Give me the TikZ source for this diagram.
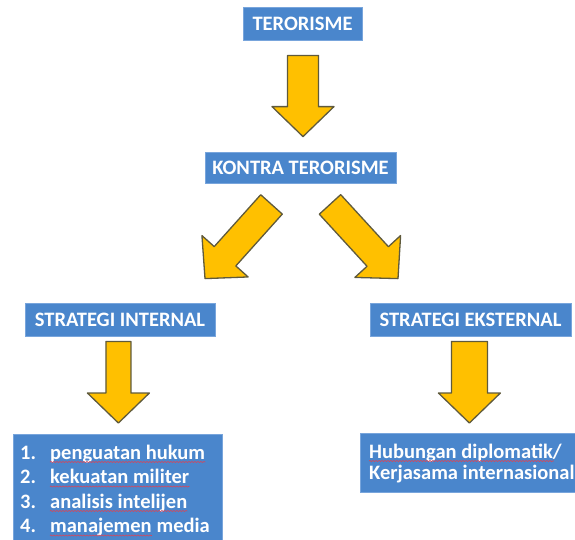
\documentclass[tikz,border=0pt]{standalone}
\usepackage{fontspec}
\setmainfont{Carlito}
\usetikzlibrary{calc, decorations.pathmorphing}

\definecolor{boxblue}{RGB}{74,134,204}
\definecolor{boxedge}{RGB}{120,165,220}
\definecolor{arrowgold}{RGB}{255,192,0}
\definecolor{arrowedge}{RGB}{95,90,60}
\definecolor{spellred}{RGB}{215,70,90}

\tikzset{
 box/.style={fill=boxblue, draw=boxedge, line width=0.8pt, inner sep=0pt,
  text=white, font=\bfseries\fontsize{20.5}{24}\selectfont},
 itemtext/.style={text=white, inner sep=0pt, anchor=base west,
  font=\bfseries\fontsize{20.5}{24}\selectfont},
 spell/.style={spellred, line width=0.6pt, decorate,
  decoration={snake, amplitude=0.6pt, segment length=3pt}},
 fatarrow/.style={draw=arrowedge, fill=arrowgold, line width=1.3pt, line join=round,
  to path={
   ($(\tikztostart)!#1!90:(\tikztotarget)$)
   -- ($($(\tikztotarget)!30pt!(\tikztostart)$)!#1!90:(\tikztotarget)$)
   -- ($($(\tikztotarget)!30pt!(\tikztostart)$)!31pt!90:(\tikztotarget)$)
   -- (\tikztotarget)
   -- ($($(\tikztotarget)!30pt!(\tikztostart)$)!31pt!-90:(\tikztotarget)$)
   -- ($($(\tikztotarget)!30pt!(\tikztostart)$)!#1!-90:(\tikztotarget)$)
   -- ($(\tikztostart)!#1!-90:(\tikztotarget)$) -- cycle}},
 fatarrow/.default=15pt
}

\begin{document}
\begin{tikzpicture}[x=1pt, y=-1pt]
 \useasboundingbox (0,0) rectangle (575,539);
 \clip (0,0) rectangle (575,539);

 % boxes
 \node[box, minimum width=119pt, minimum height=33pt] (terror) at (302.5,23.5) {TERORISME};
 \node[box, minimum width=191pt, minimum height=31pt] (kontra) at (300.5,167.5) {KONTRA TERORISME};
 \node[box, minimum width=190pt, minimum height=33pt] (internal) at (120,319.5) {STRATEGI INTERNAL};
 \node[box, minimum width=201pt, minimum height=33pt] (eksternal) at (470.5,319.5) {STRATEGI EKSTERNAL};
 \node[box, minimum width=209pt, minimum height=115pt, anchor=north west] (list) at (13,434) {};
 \node[box, minimum width=218pt, minimum height=59pt, anchor=north west] (hub) at (360,433) {};

 % list items
 \node[itemtext] (n1) at (20,459) {1.};
 \node[itemtext] (n2) at (20,483.5) {2.};
 \node[itemtext] (n3) at (20,508) {3.};
 \node[itemtext] (n4) at (20,532.5) {4.};
 \node[itemtext] (i1) at (50,459) {penguatan hukum};
 \node[itemtext] (i2) at (50,483.5) {kekuatan militer};
 \node[itemtext] (i3) at (50,508) {analisis intelijen};
 \node[itemtext] (i4) at (50,532.5) {manajemen};
 \node[itemtext] (i4b) at (i4.base east) {\ media};

 \node[itemtext] (h1) at (369,458) {Hubungan diplomatik/};
 \node[itemtext] (h2) at (369,479.5) {Kerjasama internasional};

 % spelling marks
 \draw[spell] ($(i1.base west)+(0,3)$) -- ($(i1.base east)+(0,3)$);
 \draw[spell] ($(i2.base west)+(0,3)$) -- ($(i2.base east)+(0,3)$);
 \draw[spell] ($(i3.base west)+(0,3)$) -- ($(i3.base east)+(0,3)$);
 \draw[spell] ($(i4.base west)+(0,3)$) -- ($(i4.base east)+(0,3)$);
 \draw[spell] ($(h1.base west)+(0,3)$) -- ($(h1.base east)+(-8,3)$);

 % arrow ends
 \coordinate (a1s) at ($(terror.south)+(0.5,15)$);
 \coordinate (a1e) at ($(kontra.north)+(2.5,-15)$);
 \coordinate (a2s) at ($(kontra.south)+(-29,21)$);
 \coordinate (a2e) at ($(internal.north)+(85,-24)$);
 \coordinate (a3s) at ($(kontra.south)+(29.5,21)$);
 \coordinate (a3e) at ($(eksternal.north)+(-72.5,-24)$);
 \coordinate (a4e) at ($(list.north)+(0.5,-11)$);
 \coordinate (a4s) at ($(a4e |- internal.south)+(0,5)$);
 \coordinate (a5e) at ($(hub.north)+(0,-10)$);
 \coordinate (a5s) at ($(a5e |- eksternal.south)+(0,5)$);

 % arrows
 \draw[fatarrow=15.5pt] (a1s) to (a1e);
 \draw[fatarrow=14.5pt] (a2s) to (a2e);
 \draw[fatarrow=14.5pt] (a3s) to (a3e);
 \draw[fatarrow=12.5pt] (a4s) to (a4e);
 \draw[fatarrow=18pt] (a5s) to (a5e);

\end{tikzpicture}
\end{document}
